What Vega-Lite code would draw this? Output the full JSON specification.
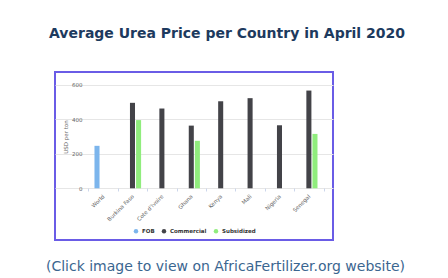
{
  "$schema": "https://vega.github.io/schema/vega-lite/v6.json",
  "width": 278,
  "height": 168,
  "autosize": "none",
  "padding": {"left": 55, "top": 72, "right": 115, "bottom": 38},
  "background": "white",
  "title": {
    "text": "Average Urea Price per Country in April 2020",
    "font": "DejaVu Sans",
    "fontSize": 14,
    "fontWeight": "bold",
    "color": "#1d3a5e",
    "anchor": "middle",
    "frame": "group",
    "baseline": "alphabetic",
    "offset": 20,
    "dx": 33
  },
  "config": {
    "view": {"stroke": "#6a5ce6", "strokeWidth": 2},
    "font": "DejaVu Sans"
  },
  "data": {
    "values": [
      {"country": "World", "type": "FOB", "price": 246},
      {"country": "Burkina Faso", "type": "Commercial", "price": 495},
      {"country": "Burkina Faso", "type": "Subsidized", "price": 395},
      {"country": "Cote d'Ivoire", "type": "Commercial", "price": 462},
      {"country": "Ghana", "type": "Commercial", "price": 363},
      {"country": "Ghana", "type": "Subsidized", "price": 275},
      {"country": "Kenya", "type": "Commercial", "price": 504},
      {"country": "Mali", "type": "Commercial", "price": 522},
      {"country": "Nigeria", "type": "Commercial", "price": 365},
      {"country": "Senegal", "type": "Commercial", "price": 566},
      {"country": "Senegal", "type": "Subsidized", "price": 315}
    ]
  },
  "mark": {"type": "bar"},
  "encoding": {
    "x": {
      "field": "country",
      "type": "nominal",
      "sort": null,
      "scale": {"paddingInner": 0, "paddingOuter": 0.728, "align": 0.78},
      "axis": {
        "orient": "bottom",
        "offset": -52,
        "labelAngle": -45,
        "labelAlign": "right",
        "labelBaseline": "middle",
        "labelFontSize": 5.5,
        "labelColor": "#666666",
        "labelPadding": 4,
        "domain": false,
        "tickColor": "#ccd6eb",
        "tickSize": 3,
        "tickBand": "extent",
        "title": "(Click image to view on AfricaFertilizer.org website)",
        "titleFont": "DejaVu Sans",
        "titleFontSize": 14,
        "titleFontWeight": "normal",
        "titleColor": "#3b6690",
        "titleX": 170,
        "titleY": 82,
        "titleAlign": "center",
        "titleBaseline": "alphabetic"
      }
    },
    "xOffset": {
      "field": "type",
      "type": "nominal",
      "sort": ["FOB", "Commercial", "Subsidized"],
      "scale": {"domain": ["FOB", "Commercial", "Subsidized"], "paddingInner": 0.17, "paddingOuter": 1.035}
    },
    "y": {
      "field": "price",
      "type": "quantitative",
      "scale": {"domain": [-299.4, 673.5], "nice": false, "zero": false},
      "axis": {
        "orient": "left",
        "offset": -33,
        "values": [0, 200, 400, 600],
        "domain": false,
        "ticks": false,
        "labelFontSize": 5.5,
        "labelColor": "#666666",
        "labelPadding": 6,
        "gridColor": "#e6e6e6",
        "title": "USD per ton",
        "titleFontSize": 5.5,
        "titleFontWeight": "normal",
        "titleColor": "#666666",
        "titlePadding": 3,
        "titleY": 64.5
      }
    },
    "color": {
      "field": "type",
      "type": "nominal",
      "scale": {"domain": ["FOB", "Commercial", "Subsidized"], "range": ["#7cb5ec", "#434348", "#90ed7d"]},
      "legend": {
        "orient": "none",
        "legendX": 78,
        "legendY": 156,
        "direction": "horizontal",
        "title": null,
        "symbolType": "circle",
        "symbolSize": 20,
        "labelFontSize": 5.5,
        "labelFontWeight": "bold",
        "labelColor": "#333333",
        "columnPadding": 6,
        "labelOffset": 3
      }
    }
  }
}
